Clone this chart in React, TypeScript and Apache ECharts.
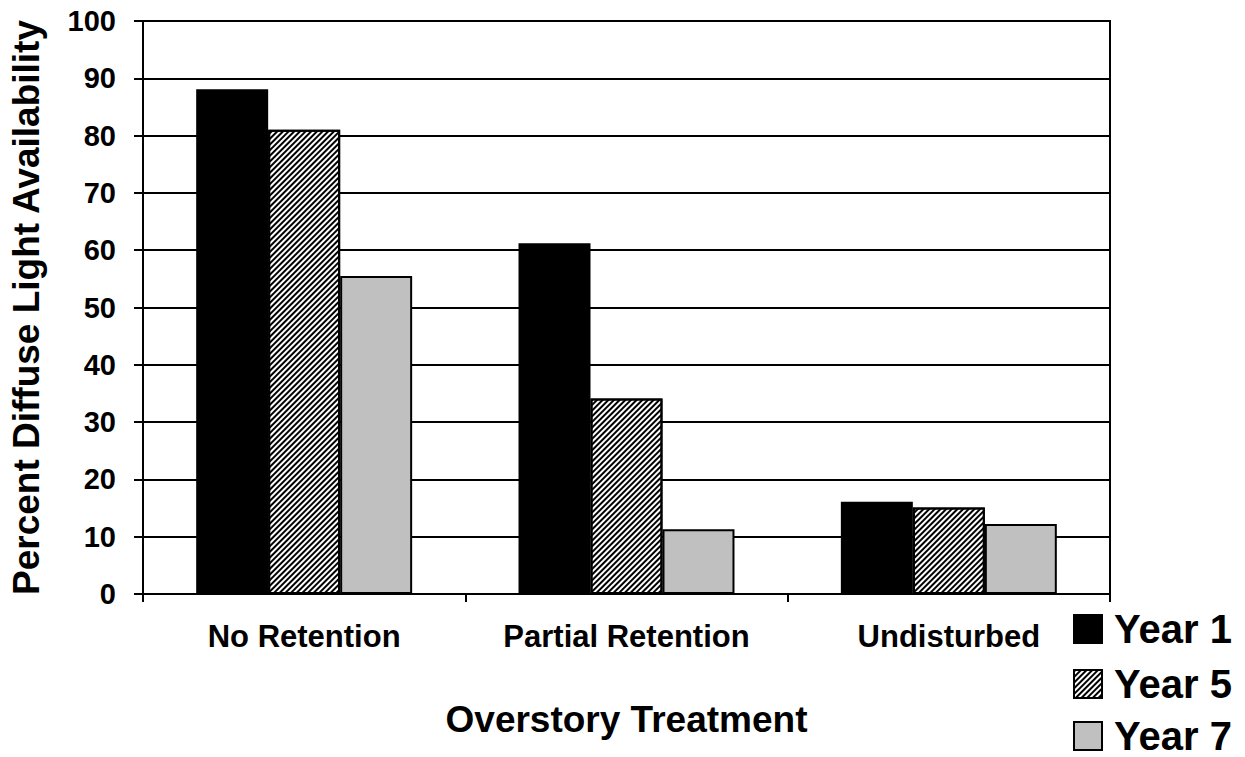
import React, { useEffect, useRef } from "react";
import * as echarts from "echarts";

const categories = ["No Retention", "Partial Retention", "Undisturbed"];
const seriesNames = ["Year 1", "Year 5", "Year 7"];
const year1 = [88.1, 61.2, 16.1];
const year5 = [81.0, 34.1, 15.1];
const year7 = [55.5, 11.3, 12.2];
const yTicks = { min: 0, max: 100, interval: 10 };

const FONT = "'Liberation Sans', Arial, sans-serif";

export default function App() {
  const ref = useRef<HTMLDivElement>(null);
  useEffect(() => {
    if (!ref.current) return;
    const chart = echarts.init(ref.current, undefined, { renderer: "svg" });
    const hatch = {
      symbol: "rect",
      symbolSize: 1,
      color: "#000",
      backgroundColor: "#fff",
      dashArrayX: [1, 0],
      dashArrayY: [2, 2],
      rotation: -Math.PI / 4,
    };
    const common = {
      type: "bar",
      barGap: "0%",
      barCategoryGap: "33%",
    };
    const legendTops = [609, 664, 716];
    const legends = seriesNames.map((name, i) => ({
      orient: "vertical",
      left: 1073,
      top: legendTops[i],
      padding: 0,
      itemWidth: 28,
      itemHeight: 28,
      icon: "rect",
      textStyle: {
        fontSize: 40,
        fontWeight: "bold",
        color: "#000",
        fontFamily: FONT,
        padding: [0, 0, 0, 7],
      },
      data: [name],
    }));
    chart.setOption({
      animation: false,
      backgroundColor: "#fff",
      textStyle: { fontFamily: FONT, color: "#000" },
      grid: { left: 143, right: 135, top: 21, bottom: 163, show: true, borderColor: "#000", borderWidth: 2 },
      legend: legends,
      xAxis: {
        type: "category",
        data: categories,
        name: "Overstory Treatment",
        nameLocation: "middle",
        nameGap: 107,
        nameTextStyle: { fontSize: 37, fontWeight: "bold", color: "#000", fontFamily: FONT },
        axisLine: { lineStyle: { color: "#000", width: 2 } },
        axisTick: { show: true, length: 8, lineStyle: { color: "#000", width: 2 } },
        axisLabel: { interval: 0, fontSize: 31, fontWeight: "bold", color: "#000", margin: 27, fontFamily: FONT },
      },
      yAxis: {
        type: "value",
        min: yTicks.min,
        max: yTicks.max,
        interval: yTicks.interval,
        name: "Percent Diffuse Light Availability",
        nameLocation: "middle",
        nameGap: 98,
        nameTextStyle: { fontSize: 37, fontWeight: "bold", color: "#000", fontFamily: FONT },
        axisLine: { show: true, lineStyle: { color: "#000", width: 2 } },
        axisTick: { show: true, length: 9, lineStyle: { color: "#000", width: 2 } },
        splitLine: { show: true, lineStyle: { color: "#000", width: 2 } },
        axisLabel: { fontSize: 29, fontWeight: "bold", color: "#000", margin: 27, fontFamily: FONT },
      },
      series: [
        {
          ...common,
          name: seriesNames[0],
          data: year1,
          itemStyle: { color: "#000", borderColor: "#000", borderWidth: 2 },
        },
        {
          ...common,
          name: seriesNames[1],
          data: year5,
          itemStyle: { color: "#fff", borderColor: "#000", borderWidth: 2, decal: hatch },
        },
        {
          ...common,
          name: seriesNames[2],
          data: year7,
          itemStyle: { color: "#c0c0c0", borderColor: "#000", borderWidth: 2 },
        },
      ],
    });
    return () => chart.dispose();
  }, []);
  return (
    <div
      ref={ref}
      style={{ position: "absolute", left: 0, top: 0, width: 1245, height: 757, background: "#fff" }}
    />
  );
}
